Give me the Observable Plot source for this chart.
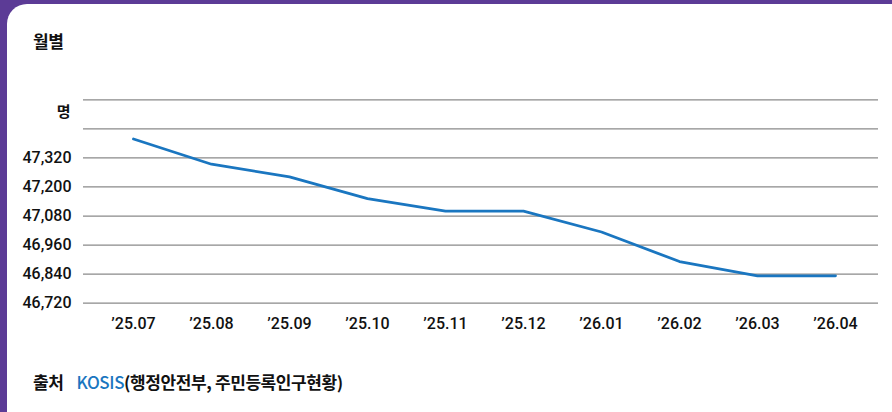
<!DOCTYPE html>
<html>
<head>
<meta charset="utf-8">
<script src="https://cdn.jsdelivr.net/npm/d3@7"></script>
<script src="https://cdn.jsdelivr.net/npm/@observablehq/plot@0.6"></script>
<style>
  html, body { margin: 0; padding: 0; }
  body { width: 892px; height: 412px; overflow: hidden; background: #5c3b96; position: relative; font-family: "Noto Sans CJK KR", "Noto Sans", sans-serif; }
  #card { position: absolute; left: 7px; top: 4px; width: 910px; height: 440px; background: #fff; border-radius: 20px; }
  #title { position: absolute; left: 33px; top: 28px; font-size: 17px; font-weight: 700; color: #111; letter-spacing: -0.3px; }
  #chart { position: absolute; left: 0; top: 80px; }
  #source { position: absolute; left: 33px; top: 369px; font-size: 17px; font-weight: 700; color: #111; letter-spacing: -0.4px; white-space: nowrap; }
  #source .k { color: #1a76c0; font-weight: 500; margin-left: 13px; }
</style>
</head>
<body>
<div id="card"></div>
<div id="title">월별</div>
<div id="chart"></div>
<div id="source">출처<span class="k">KOSIS</span>(행정안전부, 주민등록인구현황)</div>
<script>
const months = ["’25.07","’25.08","’25.09","’25.10","’25.11","’25.12","’26.01","’26.02","’26.03","’26.04"];
const population = [47398, 47294, 47242, 47152, 47100, 47100, 47014, 46892, 46833, 46833];
const yTicks = [46720, 46840, 46960, 47080, 47200, 47320, 47440, 47560];
const yTickLabels = ["46,720", "46,840", "46,960", "47,080", "47,200", "47,320", "", ""];
const yUnit = "명";

const data = months.map((m, i) => ({month: m, value: population[i]}));

const chart = Plot.plot({
  width: 892,
  height: 260,
  marginLeft: 83,
  marginRight: 14,
  marginTop: 19.3,
  marginBottom: 37.3,
  style: {fontFamily: "Roboto, 'Noto Sans', sans-serif", color: "#111", background: "transparent"},
  x: {type: "point", domain: months, padding: 0, insetLeft: 50, insetRight: 43, label: null},
  y: {domain: [46720, 47560], label: null},
  marks: [
    Plot.gridY(yTicks, {stroke: "#8a8a8a", strokeOpacity: 1, strokeWidth: 1.2}),
    Plot.axisY({ticks: yTicks, tickSize: 0, tickPadding: 12, fontSize: 16, fontWeight: 500,
      tickFormat: (d) => yTickLabels[yTicks.indexOf(d)], label: null}),
    Plot.axisX({tickSize: 0, tickPadding: 14, fontSize: 16, fontWeight: 500, label: null, style: {letterSpacing: "-1px"}}),
    Plot.text([yUnit], {frameAnchor: "top-left", text: (d) => d, dx: -13, dy: 7, textAnchor: "end",
      fontSize: 15, fontWeight: 700, fontFamily: "Noto Sans CJK KR", fill: "#111"}),
    Plot.line(data, {x: "month", y: "value", stroke: "#1a76c0", strokeWidth: 2.8})
  ]
});
document.getElementById("chart").appendChild(chart);
</script>
</body>
</html>
